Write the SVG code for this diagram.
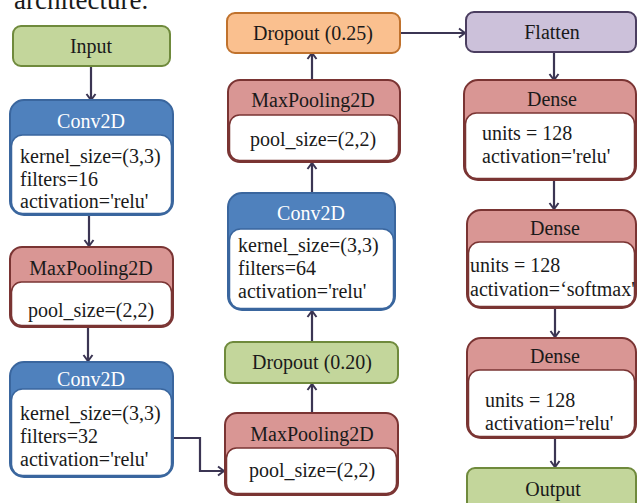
<svg xmlns="http://www.w3.org/2000/svg" width="639" height="503" viewBox="0 0 639 503">
<defs>
<marker id="ah" markerWidth="12" markerHeight="12" refX="9" refY="6" orient="auto" markerUnits="userSpaceOnUse">
<path d="M3,1.5 L9,6 L3,10.5" fill="none" stroke="#3b3553" stroke-width="2"/>
</marker>
<style>
text{font-size:20px;fill:#1a1a1a}
.c{text-anchor:middle}
.w{fill:#ffffff}
.green{fill:#c3d69b;stroke:#6f8a3c;stroke-width:2}
.orange{fill:#fac08f;stroke:#c0722d;stroke-width:2}
.purple{fill:#ccc1da;stroke:#4b3e60;stroke-width:2}
.blue{fill:#4f81bd;stroke:#3a669e;stroke-width:2}
.bbody{fill:#ffffff;stroke:#3a669e;stroke-width:1.5}
.red{fill:#d99694;stroke:#7a3433;stroke-width:2}
.rbody{fill:#ffffff;stroke:#7a3433;stroke-width:1.5}
.conn{fill:none;stroke:#3b3553;stroke-width:2.2;marker-end:url(#ah)}
</style>
</defs>
<rect width="639" height="503" fill="#ffffff"/>
<g font-family="'Liberation Serif', 'Times New Roman', serif">
<text x="14" y="9" style="font-size:27px">architecture.</text>

<g id="connectors">
<line class="conn" x1="91" y1="66" x2="91" y2="100"/>
<line class="conn" x1="89" y1="215" x2="89" y2="246"/>
<line class="conn" x1="88" y1="327" x2="88" y2="361"/>
<polyline class="conn" points="173,438 200,438 200,471 224,471"/>
<line class="conn" x1="312" y1="413" x2="312" y2="384"/>
<line class="conn" x1="312" y1="342" x2="312" y2="311"/>
<line class="conn" x1="312" y1="193" x2="312" y2="163"/>
<line class="conn" x1="312" y1="80" x2="312" y2="53"/>
<line class="conn" x1="400" y1="33" x2="465" y2="33"/>
<line class="conn" x1="554" y1="52" x2="554" y2="80"/>
<line class="conn" x1="554" y1="180" x2="554" y2="209"/>
<line class="conn" x1="555" y1="308" x2="555" y2="337"/>
<line class="conn" x1="555" y1="438" x2="555" y2="467"/>
</g>

<g id="input">
<rect class="green" x="13" y="26" width="157" height="40" rx="8"/>
<text class="c" x="91" y="53">Input</text>
</g>

<g id="conv2d_1">
<rect class="blue" x="10" y="100" width="163" height="115" rx="14"/>
<rect class="bbody" x="11.5" y="135" width="160" height="78.5" rx="11"/>
<text class="c w" x="91" y="128">Conv2D</text>
<text x="20" y="163">kernel_size=(3,3)</text>
<text x="20" y="186">filters=16</text>
<text x="20" y="208">activation='relu'</text>
</g>

<g id="maxpool_1">
<rect class="red" x="10" y="247" width="163" height="80" rx="12"/>
<rect class="rbody" x="11.5" y="282" width="160" height="43.5" rx="10"/>
<text class="c" x="91" y="275">MaxPooling2D</text>
<text class="c" x="91" y="317">pool_size=(2,2)</text>
</g>

<g id="conv2d_2">
<rect class="blue" x="10" y="362" width="163" height="115" rx="14"/>
<rect class="bbody" x="11.5" y="389" width="160" height="86.5" rx="11"/>
<text class="c w" x="91" y="386">Conv2D</text>
<text x="20" y="420">kernel_size=(3,3)</text>
<text x="20" y="443">filters=32</text>
<text x="20" y="466">activation='relu'</text>
</g>

<g id="maxpool_2">
<rect class="red" x="225" y="413" width="173" height="82" rx="12"/>
<rect class="rbody" x="226.5" y="448" width="170" height="45.5" rx="10"/>
<text class="c" x="312" y="441">MaxPooling2D</text>
<text class="c" x="312" y="477">pool_size=(2,2)</text>
</g>

<g id="dropout_020">
<rect class="green" x="225" y="342" width="173" height="41" rx="8"/>
<text class="c" x="312" y="369">Dropout (0.20)</text>
</g>

<g id="conv2d_3">
<rect class="blue" x="228" y="193" width="167" height="117" rx="14"/>
<rect class="bbody" x="229.5" y="229" width="164" height="79.5" rx="11"/>
<text class="c w" x="311" y="220">Conv2D</text>
<text x="238" y="252">kernel_size=(3,3)</text>
<text x="238" y="275">filters=64</text>
<text x="238" y="298">activation='relu'</text>
</g>

<g id="maxpool_3">
<rect class="red" x="228" y="80" width="172" height="82" rx="12"/>
<rect class="rbody" x="229.5" y="115" width="169" height="45.5" rx="10"/>
<text class="c" x="313" y="107">MaxPooling2D</text>
<text class="c" x="313" y="146">pool_size=(2,2)</text>
</g>

<g id="dropout_025">
<rect class="orange" x="227" y="13" width="173" height="40" rx="8"/>
<text class="c" x="313" y="40">Dropout (0.25)</text>
</g>

<g id="flatten">
<rect class="purple" x="466" y="12" width="170" height="40" rx="8"/>
<text class="c" x="552" y="39">Flatten</text>
</g>

<g id="dense_1">
<rect class="red" x="464" y="80" width="172" height="100" rx="14"/>
<rect class="rbody" x="465.5" y="113" width="169" height="65.5" rx="11"/>
<text class="c" x="552" y="106">Dense</text>
<text x="482" y="140">units = 128</text>
<text x="482" y="163">activation='relu'</text>
</g>

<g id="dense_2">
<rect class="red" x="467" y="210" width="169" height="98" rx="14"/>
<rect class="rbody" x="468.5" y="242" width="166" height="64.5" rx="11"/>
<text class="c" x="555" y="235">Dense</text>
<text x="470" y="272">units = 128</text>
<text x="470" y="296">activation=‘softmax'</text>
</g>

<g id="dense_3">
<rect class="red" x="467" y="338" width="169" height="100" rx="14"/>
<rect class="rbody" x="468.5" y="370" width="166" height="66.5" rx="11"/>
<text class="c" x="555" y="363">Dense</text>
<text x="485" y="407">units = 128</text>
<text x="485" y="430">activation='relu'</text>
</g>

<g id="output">
<rect class="green" x="467" y="468" width="169" height="45" rx="8"/>
<text class="c" x="553" y="496">Output</text>
</g>
</g>
</svg>
